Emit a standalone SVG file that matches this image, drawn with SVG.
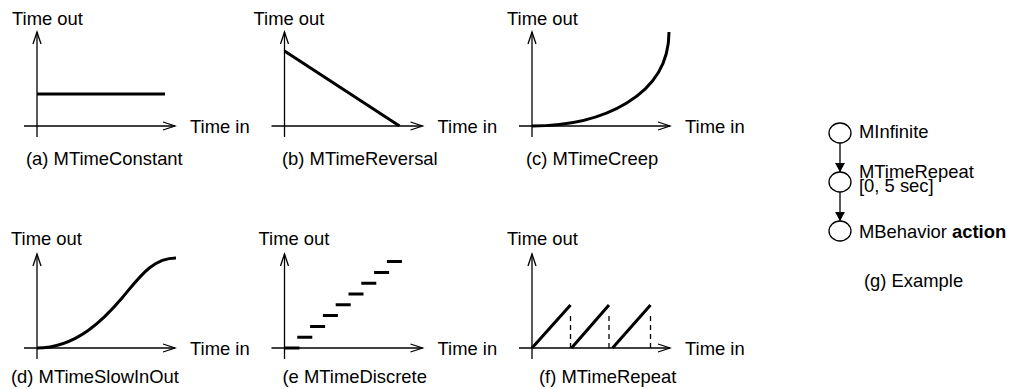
<svg xmlns="http://www.w3.org/2000/svg" width="1014" height="389" viewBox="0 0 1014 389">
  <style>
    text { font-family: "Liberation Sans", Arial, Helvetica, sans-serif; font-size: 18.4px; fill: #000; }
    .axis { stroke: #000; stroke-width: 1.3; fill: none; marker-end: url(#open); }
    .curve { stroke: #000; stroke-width: 3; fill: none; }
    .dash { stroke: #000; stroke-width: 1.3; stroke-dasharray: 5 4; fill: none; }
    .node { stroke: #000; stroke-width: 1.3; fill: #fff; }
    .edge { stroke: #000; stroke-width: 1.3; fill: none; marker-end: url(#solid); }
    .bold { font-weight: bold; }
  </style>
  <defs>
    <!-- open chevron for the graph axes -->
    <marker id="open" markerUnits="userSpaceOnUse" markerWidth="16" markerHeight="12" viewBox="-14 -6 16 12" refX="0" refY="0" orient="auto">
      <path d="M-12,-4 L0,0 L-12,4" fill="none" stroke="#000" stroke-width="1.3"/>
    </marker>
    <!-- filled head for the tree edges -->
    <marker id="solid" markerUnits="userSpaceOnUse" markerWidth="12" markerHeight="12" viewBox="-10 -6 12 12" refX="0" refY="0" orient="auto">
      <path d="M-9,-5 L0,0 L-9,5 Z" fill="#000"/>
    </marker>
    <!-- shared pair of axes, origin at the crossing -->
    <g id="axes">
      <line class="axis" x1="0" y1="11" x2="0" y2="-94"/>
      <line class="axis" x1="-13" y1="0" x2="138" y2="0"/>
      <text x="153" y="7">Time in</text>
    </g>
  </defs>

  <!-- (a) constant -->
  <g id="panel-a" transform="translate(37,126)">
    <use href="#axes"/>
    <text x="-25" y="-101">Time out</text>
    <line class="curve" x1="0" y1="-32" x2="128" y2="-32"/>
    <text x="-11" y="39">(a) MTimeConstant</text>
  </g>

  <!-- (b) reversal -->
  <g id="panel-b" transform="translate(284.5,126)">
    <use href="#axes"/>
    <text x="-31" y="-101">Time out</text>
    <line class="curve" x1="0" y1="-75" x2="115" y2="0"/>
    <text x="-2.5" y="39">(b) MTimeReversal</text>
  </g>

  <!-- (c) creep -->
  <g id="panel-c" transform="translate(532,126)">
    <use href="#axes"/>
    <text x="-25" y="-101">Time out</text>
    <path class="curve" d="M0,0 C70,0 137,-30 137,-94"/>
    <text x="-6" y="39">(c) MTimeCreep</text>
  </g>

  <!-- (d) slow in / out -->
  <g id="panel-d" transform="translate(37,348)">
    <use href="#axes"/>
    <text x="-26" y="-103">Time out</text>
    <path class="curve" d="M0,0 C40,0 68,-30 85,-50 C102,-70 115,-90 139,-90"/>
    <text x="-26" y="35">(d) MTimeSlowInOut</text>
  </g>

  <!-- (e) discrete -->
  <g id="panel-e" transform="translate(284.5,348)">
    <use href="#axes"/>
    <text x="-26" y="-103">Time out</text>
    <path class="curve" d="M0,0 h15 M12.8,-10.8 h15 M25.6,-21.6 h15 M38.4,-32.4 h15 M51.2,-43.2 h15 M64,-54 h15 M76.8,-64.8 h15 M89.6,-75.6 h15 M102.4,-86.4 h15"/>
    <text x="-2" y="35">(e MTimeDiscrete</text>
  </g>

  <!-- (f) repeat -->
  <g id="panel-f" transform="translate(532,348)">
    <use href="#axes"/>
    <text x="-25" y="-103">Time out</text>
    <path class="curve" d="M0,0 L38.5,-43 M39.5,0 L77,-43 M80.5,0 L118.5,-43"/>
    <path class="dash" d="M38.5,-32 V0 M77,-32 V0 M118.5,-32 V0"/>
    <text x="7" y="35">(f) MTimeRepeat</text>
  </g>

  <!-- (g) example tree -->
  <g id="connectors">
    <line class="edge" x1="840" y1="143" x2="840" y2="172"/>
    <line class="edge" x1="840" y1="192" x2="840" y2="221"/>
  </g>
  <g id="node-infinite">
    <ellipse class="node" cx="840" cy="133" rx="11" ry="10"/>
    <text x="859" y="138">MInfinite</text>
  </g>
  <g id="node-repeat">
    <ellipse class="node" cx="840" cy="182" rx="11" ry="10"/>
    <text x="859" y="178">MTimeRepeat</text>
    <text x="859" y="192">[0, 5 sec]</text>
  </g>
  <g id="node-behavior">
    <ellipse class="node" cx="840" cy="231" rx="11" ry="10"/>
    <text x="859" y="238">MBehavior <tspan class="bold">action</tspan></text>
  </g>
  <text id="caption-g" x="864" y="287">(g) Example</text>
</svg>
